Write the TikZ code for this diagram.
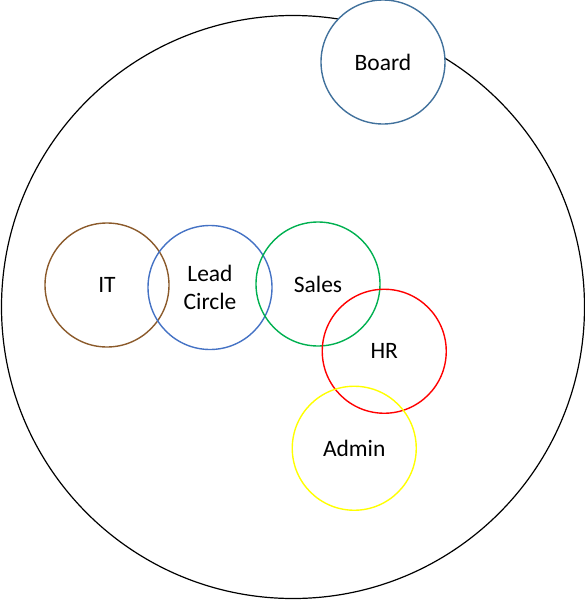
\documentclass[tikz,border=0pt]{standalone}
\usepackage{fontspec}
\setmainfont{Carlito}
\usetikzlibrary{shapes,positioning,calc}
\definecolor{boardblue}{HTML}{41719C}
\definecolor{leadblue}{HTML}{4472C4}
\definecolor{itbrown}{HTML}{8B5A2B}
\definecolor{salesgreen}{HTML}{00B050}
\definecolor{hrred}{HTML}{FF0000}
\definecolor{adminyellow}{HTML}{FFFF00}
\begin{document}
\begin{tikzpicture}[x=1pt,y=-1pt,node distance=105pt,
    unit/.style={draw,circle,line width=1.4pt,minimum size=124pt,inner sep=0pt,align=center,
        font=\fontsize{23.5}{28.5}\selectfont}]
    \useasboundingbox (0,0) rectangle (585,600);
    \node [draw,circle,line width=1.2pt,minimum size=583pt,inner sep=0pt] (org) at (293,307) {};
    \node [unit,itbrown] (it) at (107,285) {\color{black}IT};
    \node [unit,leadblue,right of = it,xshift=-2pt,yshift=-2.5pt] (lead) {\color{black}Lead\\\color{black}Circle};
    \node [unit,salesgreen,right of = lead,xshift=3pt,yshift=3.5pt] (sales) {\color{black}Sales};
    \node [unit,hrred,below right of = sales,xshift=-8pt,yshift=7pt] (hr) {\color{black}HR};
    \node [unit,adminyellow,below of = hr,xshift=-30pt,yshift=8pt] (admin) {\color{black}Admin};
    \node [unit,boardblue,fill=white] (board) at (383,62) {\color{black}Board};
\end{tikzpicture}
\end{document}
